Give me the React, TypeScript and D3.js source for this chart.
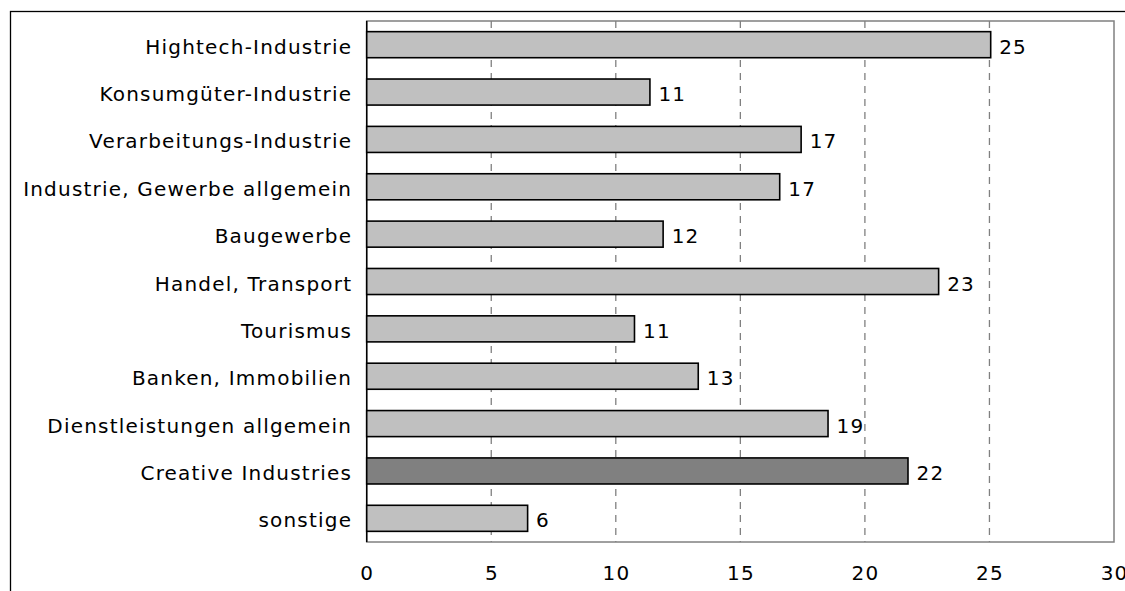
import React from "react";
import * as d3 from "d3";

const categories = [
  "Hightech-Industrie",
  "Konsumgüter-Industrie",
  "Verarbeitungs-Industrie",
  "Industrie, Gewerbe allgemein",
  "Baugewerbe",
  "Handel, Transport",
  "Tourismus",
  "Banken, Immobilien",
  "Dienstleistungen allgemein",
  "Creative Industries",
  "sonstige",
];
const values = [25.05, 11.37, 17.44, 16.58, 11.9, 22.96, 10.75, 13.31, 18.52, 21.73, 6.46];
const highlighted = ["Creative Industries"];
const xTicks = [0, 5, 10, 15, 20, 25, 30];

const W = 1125;
const H = 591;
const plot = { left: 366.7, top: 21, right: 1114, bottom: 542 };
const FONT = "'DejaVu Sans', Verdana, sans-serif";
const LS = 1.2;

export default function App() {
  const x = d3.scaleLinear().domain([0, 30]).range([plot.left, plot.right]);
  const y = d3
    .scaleBand<string>()
    .domain(categories)
    .range([plot.top, plot.bottom])
    .paddingInner(0.45)
    .paddingOuter(0.225);
  const bw = y.bandwidth();

  return (
    <svg
      width={W}
      height={H}
      style={{ position: "absolute", left: 0, top: 0, background: "#fff" }}
      fontFamily={FONT}
      letterSpacing={LS}
    >
      <rect x={0} y={0} width={W} height={H} fill="#fff" />
      {/* outer frame */}
      <rect x={10.5} y={11.5} width={W + 20} height={H + 20} fill="none" stroke="#000" strokeWidth={1.3} />
      {/* plot border */}
      <rect
        x={plot.left}
        y={plot.top}
        width={plot.right - plot.left}
        height={plot.bottom - plot.top}
        fill="#fff"
        stroke="#808080"
        strokeWidth={1.5}
      />
      {/* gridlines */}
      {xTicks
        .filter((t) => t > 0 && t < 30)
        .map((t) => (
          <line
            key={"g" + t}
            x1={x(t)}
            x2={x(t)}
            y1={plot.top}
            y2={plot.bottom}
            stroke="#808080"
            strokeWidth={1.3}
            strokeDasharray="7,6"
          />
        ))}
      {/* left axis line */}
      <line x1={plot.left} x2={plot.left} y1={plot.top} y2={plot.bottom} stroke="#000" strokeWidth={1.5} />
      {/* bars */}
      {categories.map((c, i) => (
        <rect
          key={c}
          x={x(0)}
          y={y(c)!}
          width={x(values[i]) - x(0)}
          height={bw}
          fill={highlighted.includes(c) ? "#808080" : "#c0c0c0"}
          stroke="#000"
          strokeWidth={1.6}
        />
      ))}
      {/* value labels */}
      {categories.map((c, i) => (
        <text
          key={"v" + c}
          x={x(values[i]) + 8.5}
          y={y(c)! + bw / 2}
          dy="0.45em"
          fontSize={20}
          fill="#000"
        >
          {d3.format(".0f")(values[i])}
        </text>
      ))}
      {/* category labels */}
      {categories.map((c) => (
        <text
          key={"c" + c}
          x={351 + LS}
          y={y(c)! + bw / 2}
          dy="0.45em"
          fontSize={20}
          textAnchor="end"
          fill="#000"
        >
          {c}
        </text>
      ))}
      {/* x tick labels */}
      {xTicks.map((t) => (
        <text key={"t" + t} x={x(t) + LS / 2} y={580} fontSize={20} textAnchor="middle" fill="#000">
          {t}
        </text>
      ))}
    </svg>
  );
}
